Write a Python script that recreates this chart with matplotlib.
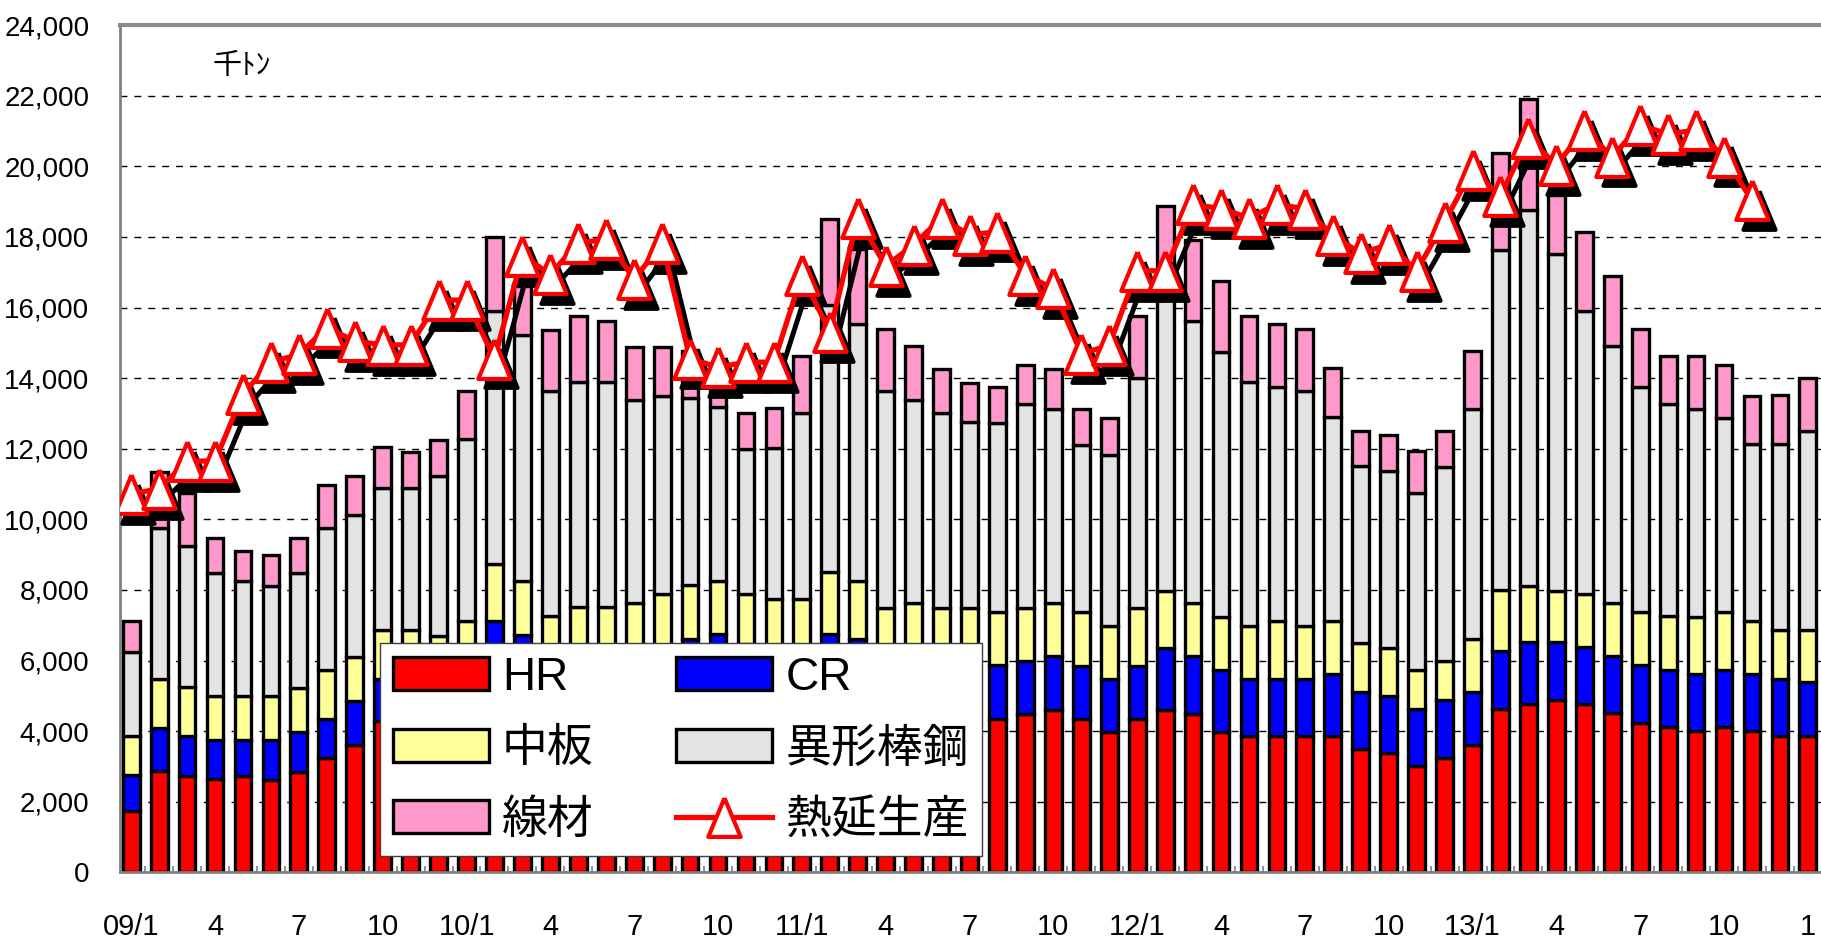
import matplotlib
matplotlib.use("Agg")
import matplotlib.pyplot as plt
import matplotlib.transforms as mtransforms
from matplotlib.ticker import MultipleLocator, StrMethodFormatter, FixedLocator
import numpy as np

plt.rcParams['font.family'] = ['Liberation Sans Narrow', 'Liberation Sans', 'Noto Sans CJK JP', 'DejaVu Sans']

# monthly figures, 09/1 .. 14/1 (thousand tonnes)
hr = [1750, 2860, 2740, 2630, 2740, 2610, 2850, 3240, 3610, 4290,
      4300, 4200, 4500, 5600, 5400, 4800, 4900, 4900, 4950, 5000,
      5100, 5200, 5000, 4800, 4800, 5200, 5100, 4700, 4600, 4500,
      4380, 4350, 4480, 4600, 4350, 3970, 4350, 4600, 4480, 3970,
      3860, 3860, 3860, 3860, 3480, 3370, 3010, 3240, 3620, 4620,
      4760, 4880, 4760, 4500, 4240, 4120, 4000, 4120, 4000, 3860,
      3860]
cr = [1020, 1230, 1120, 1110, 1000, 1130, 1120, 1110, 1240, 1180,
      1200, 1200, 1300, 1510, 1330, 1300, 1350, 1350, 1350, 1350,
      1510, 1550, 1480, 1450, 1450, 1550, 1510, 1400, 1450, 1500,
      1590, 1520, 1500, 1520, 1500, 1520, 1500, 1750, 1640, 1760,
      1630, 1630, 1630, 1750, 1630, 1630, 1610, 1640, 1490, 1640,
      1760, 1630, 1610, 1640, 1630, 1620, 1610, 1620, 1610, 1630,
      1520]
plate = [1090, 1380, 1380, 1260, 1260, 1260, 1260, 1380, 1260, 1380,
         1350, 1300, 1330, 1630, 1510, 1150, 1260, 1260, 1330, 1520,
         1540, 1500, 1390, 1500, 1500, 1750, 1640, 1390, 1580, 1490,
         1520, 1500, 1520, 1510, 1520, 1500, 1640, 1630, 1510, 1510,
         1500, 1620, 1500, 1500, 1380, 1360, 1110, 1110, 1500, 1730,
         1590, 1470, 1500, 1490, 1500, 1510, 1630, 1630, 1500, 1380,
         1490]
rebar = [2370, 4270, 4010, 3490, 3240, 3110, 3250, 4010, 4000, 4050,
         4050, 4530, 5140, 7150, 6990, 6380, 6390, 6390, 5750, 5620,
         5280, 4940, 4130, 4270, 5250, 7580, 7270, 6150, 5750, 5510,
         5270, 5370, 5760, 5500, 4730, 4830, 6510, 8620, 7990, 7510,
         6910, 6650, 6650, 5790, 5010, 5020, 5010, 5480, 6510, 9640,
         10660, 9530, 8030, 7270, 6390, 6010, 5880, 5510, 5010, 5260,
         5640]
wire = [880, 1610, 1500, 990, 860, 870, 990, 1230, 1120, 1150,
        1000, 1030, 1370, 2110, 1370, 1740, 1850, 1710, 1500, 1390,
        1330, 910, 1020, 1120, 1630, 2420, 2130, 1740, 1520, 1250,
        1110, 1010, 1120, 1130, 1030, 1060, 1760, 2270, 2280, 2000,
        1850, 1760, 1740, 1380, 1010, 1010, 1200, 1030, 1640, 2760,
        3140, 1690, 2250, 2000, 1620, 1380, 1510, 1500, 1380, 1380,
        1490]
hot_rolled = [10720, 10860, 11650, 11650, 13550, 14450, 14670, 15430, 15050, 14940,
              14940, 16210, 16210, 14550, 17460, 16950, 17820, 17940, 16800, 17820,
              14550, 14310, 14450, 14450, 16920, 15310, 18540, 17170, 17780, 18540,
              18050, 18150, 16920, 16540, 14690, 14930, 17040, 17040, 18920, 18800,
              18540, 18920, 18800, 18050, 17530, 17790, 17040, 18430, 19900, 19150,
              20800, 20040, 21030, 20270, 21170, 20910, 21030, 20270, 19040]
tick_labels = ["09/1", "4", "7", "10", "10/1", "4", "7", "10", "11/1", "4", "7", "10",
               "12/1", "4", "7", "10", "13/1", "4", "7", "10", "1"]

series = [("HR", hr, "#ff0000"), ("CR", cr, "#0000ff"), ("中板", plate, "#ffff99"),
          ("異形棒鋼", rebar, "#e3e3e3"), ("線材", wire, "#ff99cc")]

W, H = 1821, 939
fig = plt.figure(figsize=(W / 100, H / 100), dpi=100)
ax = fig.add_axes([120 / W, 1 - 872.3 / H, 1 - 120 / W, 847.2 / H])

x = np.arange(len(hr))
bottom = np.zeros(len(hr))
bars = {}
for name, vals, col in series:
    bars[name] = ax.bar(x, vals, bottom=bottom, width=0.6, color=col,
                        edgecolor="black", linewidth=2.4, zorder=2, label=name)
    bottom += np.array(vals)

# line with drop shadow
xl = np.arange(len(hot_rolled))
tri = [(0, 1.2), (-1, -1.2), (1, -1.2), (0, 1.2)]
shadow = mtransforms.offset_copy(ax.transData, fig=fig, x=5, y=-7, units="points")
ax.plot(xl, hot_rolled, color="black", lw=3.6, marker=tri, markersize=28,
        mfc="black", mec="black", mew=2.8, transform=shadow, zorder=3)
line, = ax.plot(xl, hot_rolled, color="#ff0000", lw=3.8, marker=tri, markersize=28,
                mfc="white", mec="#ff0000", mew=3.0, zorder=4, label="熱延生産")

ax.set_xlim(-0.4, 60.47)
ax.set_ylim(0, 24000)
ax.yaxis.set_major_locator(MultipleLocator(2000))
ax.yaxis.set_major_formatter(StrMethodFormatter("{x:,.0f}"))
ax.yaxis.grid(True, linestyle=(0, (5, 5)), color="black", linewidth=1.0)
ax.set_axisbelow(True)

ax.set_xticks(np.arange(0, 61, 3))
ax.set_xticklabels(tick_labels)
ax.xaxis.set_minor_locator(FixedLocator(np.arange(-0.5, 61, 1)))
ax.tick_params(axis="x", which="major", length=0, pad=29, labelsize=21)
ax.tick_params(axis="x", which="minor", direction="in", length=4, width=1.2, color="#808080")
ax.tick_params(axis="y", length=0, pad=22, labelsize=20)

for s in ("left", "bottom"):
    ax.spines[s].set_color("#808080")
    ax.spines[s].set_linewidth(2)
ax.spines["top"].set_color("#8a8a8a")
ax.spines["top"].set_linewidth(3)
ax.spines["right"].set_visible(False)

fig.text(213 / W, 1 - 66 / H, "千ﾄﾝ", fontsize=21, ha="left", va="center")

handles = [bars["HR"], bars["中板"], bars["線材"], bars["CR"], bars["異形棒鋼"], line]
labels = ["HR", "中板", "線材", "CR", "異形棒鋼", "熱延生産"]
leg = fig.legend(handles, labels, ncol=2, loc="upper left",
                 bbox_to_anchor=(380 / W, 1 - 643 / H), borderaxespad=0, fontsize=33,
                 frameon=True, fancybox=False, edgecolor="#404040", framealpha=1,
                 handlelength=2.1, handleheight=0.72, handletextpad=0.28,
                 columnspacing=1.8, labelspacing=0.6, borderpad=0.28)
leg.get_frame().set_linewidth(1.0)

fig.savefig("out.png", dpi=100)
